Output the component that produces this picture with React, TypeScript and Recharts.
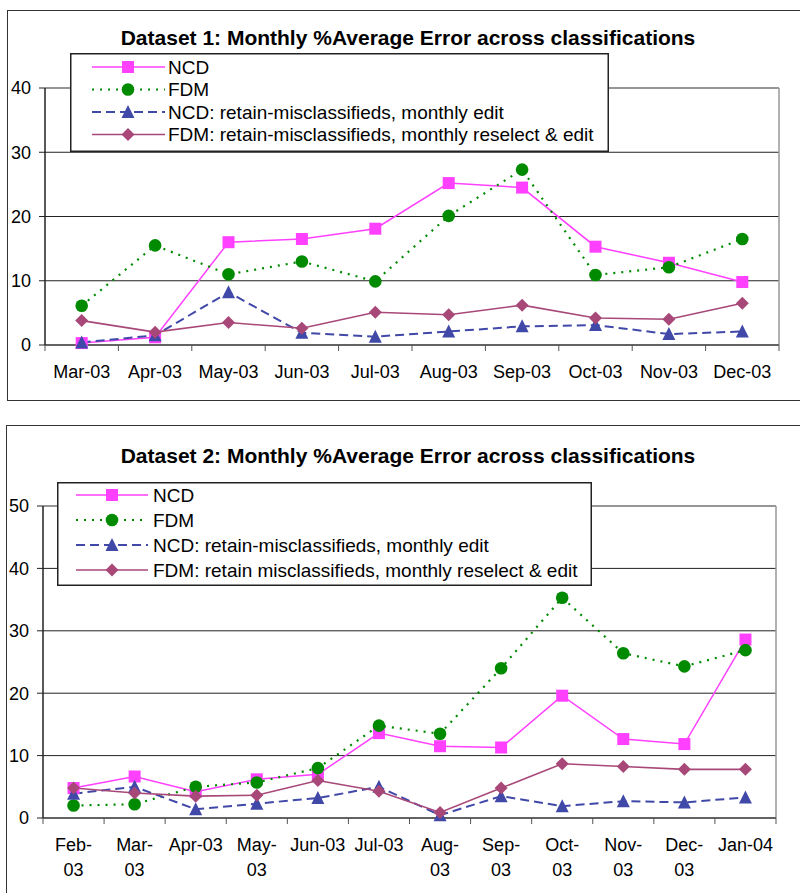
import { CartesianGrid, Legend, Line, LineChart, XAxis, YAxis } from 'recharts'

const FONT = '"Liberation Sans", Arial, Helvetica, sans-serif'

// ---- Dataset 1 ----
const months1 = ['Mar-03', 'Apr-03', 'May-03', 'Jun-03', 'Jul-03', 'Aug-03', 'Sep-03', 'Oct-03', 'Nov-03', 'Dec-03']
const monthLabels1 = ['Mar-03', 'Apr-03', 'May-03', 'Jun-03', 'Jul-03', 'Aug-03', 'Sep-03', 'Oct-03', 'Nov-03', 'Dec-03']
const ncd1 = [0.3, 1.2, 16.0, 16.5, 18.1, 25.2, 24.5, 15.3, 12.8, 9.8]
const fdm1 = [6.1, 15.5, 11.0, 13.0, 9.9, 20.1, 27.3, 10.9, 12.1, 16.5]
const ncdRetain1 = [0.4, 1.5, 8.2, 1.9, 1.3, 2.1, 2.9, 3.1, 1.7, 2.1]
const fdmRetain1 = [3.8, 2.0, 3.5, 2.6, 5.1, 4.7, 6.2, 4.2, 4.0, 6.5]
const yTicks1 = [0, 10, 20, 30, 40]
const names1 = [
  'NCD',
  'FDM',
  'NCD: retain-misclassifieds, monthly edit',
  'FDM: retain-misclassifieds, monthly reselect & edit',
]

// ---- Dataset 2 ----
const months2 = ['Feb-03', 'Mar-03', 'Apr-03', 'May-03', 'Jun-03', 'Jul-03', 'Aug-03', 'Sep-03', 'Oct-03', 'Nov-03', 'Dec-03', 'Jan-04']
const monthLabels2 = ['Feb-\n03', 'Mar-\n03', 'Apr-03', 'May-\n03', 'Jun-03', 'Jul-03', 'Aug-\n03', 'Sep-\n03', 'Oct-\n03', 'Nov-\n03', 'Dec-\n03', 'Jan-04']
const ncd2 = [4.8, 6.65, 4.2, 6.2, 7.0, 13.6, 11.5, 11.3, 19.6, 12.65, 11.85, 28.6]
const fdm2 = [2.0, 2.2, 5.0, 5.7, 8.0, 14.8, 13.5, 24.0, 35.3, 26.4, 24.3, 26.9]
const ncdRetain2 = [3.9, 5.0, 1.4, 2.3, 3.2, 5.0, 0.45, 3.5, 1.9, 2.7, 2.5, 3.3]
const fdmRetain2 = [4.8, 4.0, 3.5, 3.65, 6.0, 4.3, 0.9, 4.8, 8.7, 8.25, 7.8, 7.8]
const yTicks2 = [0, 10, 20, 30, 40, 50]
const names2 = [
  'NCD',
  'FDM',
  'NCD: retain-misclassifieds, monthly edit',
  'FDM: retain misclassifieds, monthly reselect & edit',
]

type Shape = 'square' | 'circle' | 'triangle' | 'diamond'

const seriesStyles: { color: string; width: number; dash?: string; shape: Shape }[] = [
  { color: '#FF40FF', width: 1.5, shape: 'square' },
  { color: '#008A00', width: 2.2, dash: '2 6', shape: 'circle' },
  { color: '#4048A8', width: 2, dash: '9 5', shape: 'triangle' },
  { color: '#A84878', width: 1.6, shape: 'diamond' },
]

function Marker({ shape, cx, cy, color }: { shape: Shape; cx: number; cy: number; color: string }) {
  if (cx == null || cy == null || isNaN(cx) || isNaN(cy)) return null
  if (shape === 'square') return <rect x={cx - 6} y={cy - 6} width={12} height={12} fill={color} />
  if (shape === 'circle') return <circle cx={cx} cy={cy} r={6.3} fill={color} />
  if (shape === 'triangle')
    return <polygon points={`${cx},${cy - 7} ${cx + 6.5},${cy + 6} ${cx - 6.5},${cy + 6}`} fill={color} />
  return <polygon points={`${cx},${cy - 6.5} ${cx + 6.5},${cy} ${cx},${cy + 6.5} ${cx - 6.5},${cy}`} fill={color} />
}

function MonthTick(props: any) {
  const { x, y, index, labels, band } = props
  const lines = String(labels[index]).split('\n')
  const isLast = index === labels.length - 1
  return (
    <g>
      <line x1={x - band / 2} y1={y - 6} x2={x - band / 2} y2={y} stroke="#555" />
      {isLast && <line x1={x + band / 2} y1={y - 6} x2={x + band / 2} y2={y} stroke="#555" />}
      <text x={x} y={y + 21} textAnchor="middle" fontSize={18} fontFamily={FONT} fill="#000">
        {lines.map((l, i) => (
          <tspan key={i} x={x} dy={i === 0 ? '0.35em' : 25}>
            {l}
          </tspan>
        ))}
      </text>
    </g>
  )
}

function LegendBox({ names, width, height, firstRow, rowGap, sample, markerX, textX }: any) {
  return (
    <svg width={width} height={height} style={{ display: 'block' }}>
      <rect x={0.75} y={0.75} width={width - 1.5} height={height - 1.5} fill="#fff" stroke="#222" strokeWidth={1.5} />
      {names.map((name: string, i: number) => {
        const s = seriesStyles[i]
        const cy = firstRow + i * rowGap
        return (
          <g key={name}>
            <line x1={sample[0]} y1={cy} x2={sample[1]} y2={cy} stroke={s.color} strokeWidth={s.width} strokeDasharray={s.dash} />
            <Marker shape={s.shape} cx={markerX} cy={cy} color={s.color} />
            <text x={textX} y={cy} dy="0.35em" fontSize={19} fontFamily={FONT} fill="#000">
              {name}
            </text>
          </g>
        )
      })}
    </svg>
  )
}

function DatasetChart({ top, height, title, titleTop, months, labels, values, names, yTicks, layout, legend }: any) {
  const data = months.map((m: string, i: number) => ({
    month: m,
    s0: values[0][i],
    s1: values[1][i],
    s2: values[2][i],
    s3: values[3][i],
  }))
  const plotLeft = layout.yWidth
  const plotRight = 800 - layout.right
  const band = (plotRight - plotLeft) / months.length
  return (
    <div style={{ position: 'absolute', left: 0, top, width: 800, height }}>
      <div
        style={{
          position: 'absolute',
          left: 8,
          width: 800,
          top: titleTop,
          textAlign: 'center',
          fontWeight: 'bold',
          fontSize: 21,
          fontFamily: FONT,
          lineHeight: '24px',
        }}
      >
        {title}
      </div>
      <LineChart
        width={800}
        height={height}
        data={data}
        margin={{ top: layout.top, right: layout.right, left: 0, bottom: 0 }}
        style={{ fontFamily: FONT }}
      >
        <CartesianGrid vertical={false} stroke="#222" strokeWidth={1} />
        <CartesianGrid horizontalPoints={[layout.top]} verticalPoints={[plotRight]} stroke="#999" strokeWidth={1.5} />
        <XAxis
          dataKey="month"
          interval={0}
          padding={{ left: band / 2, right: band / 2 }}
          height={layout.xHeight}
          tickSize={6}
          tickMargin={0}
          tickLine={false}
          axisLine={{ stroke: '#555', strokeWidth: 1.5 }}
          tick={(p: any) => <MonthTick {...p} labels={labels} band={band} />}
        />
        <YAxis
          domain={[0, yTicks[yTicks.length - 1]]}
          ticks={yTicks}
          interval={0}
          width={layout.yWidth}
          tickSize={6}
          tickMargin={8}
          axisLine={{ stroke: '#222', strokeWidth: 1.5 }}
          tickLine={{ stroke: '#222' }}
          tick={{ fill: '#000', fontSize: 18, fontFamily: FONT }}
        />
        {seriesStyles.map((s, i) => (
          <Line
            key={i}
            dataKey={`s${i}`}
            name={names[i]}
            stroke={s.color}
            strokeWidth={s.width}
            strokeDasharray={s.dash}
            isAnimationActive={false}
            activeDot={false}
            dot={(p: any) => <Marker key={`m${i}-${p.index}`} shape={s.shape} cx={p.cx} cy={p.cy} color={s.color} />}
          />
        ))}
        <Legend
          layout="vertical"
          align="center"
          verticalAlign="middle"
          wrapperStyle={{ left: legend.left, top: legend.top, width: legend.width, height: legend.height }}
          content={() => <LegendBox names={names} {...legend} />}
        />
      </LineChart>
    </div>
  )
}

export default function App() {
  return (
    <div
      style={{
        position: 'absolute',
        left: 0,
        top: 0,
        width: 800,
        height: 893,
        overflow: 'hidden',
        background: '#fff',
      }}
    >
      <div style={{ position: 'absolute', left: 7, top: 10, width: 830, height: 389, border: '1.5px solid #333' }} />
      <div style={{ position: 'absolute', left: 6, top: 425, width: 830, height: 520, border: '1.5px solid #333' }} />
      <DatasetChart
        top={0}
        height={410}
        title="Dataset 1: Monthly %Average Error across classifications"
        titleTop={26}
        months={months1}
        labels={monthLabels1}
        values={[ncd1, fdm1, ncdRetain1, fdmRetain1]}
        names={names1}
        yTicks={yTicks1}
        layout={{ top: 88, right: 21, yWidth: 45, xHeight: 65 }}
        legend={{ left: 70, top: 53, width: 539, height: 99, firstRow: 14, rowGap: 22.5, sample: [22, 95], markerX: 58, textX: 98 }}
      />
      <DatasetChart
        top={420}
        height={473}
        title="Dataset 2: Monthly %Average Error across classifications"
        titleTop={24}
        months={months2}
        labels={monthLabels2}
        values={[ncd2, fdm2, ncdRetain2, fdmRetain2]}
        names={names2}
        yTicks={yTicks2}
        layout={{ top: 86, right: 24, yWidth: 43, xHeight: 75 }}
        legend={{ left: 57, top: 62, width: 535, height: 104, firstRow: 13, rowGap: 25, sample: [19, 91], markerX: 55, textX: 96 }}
      />
    </div>
  )
}
